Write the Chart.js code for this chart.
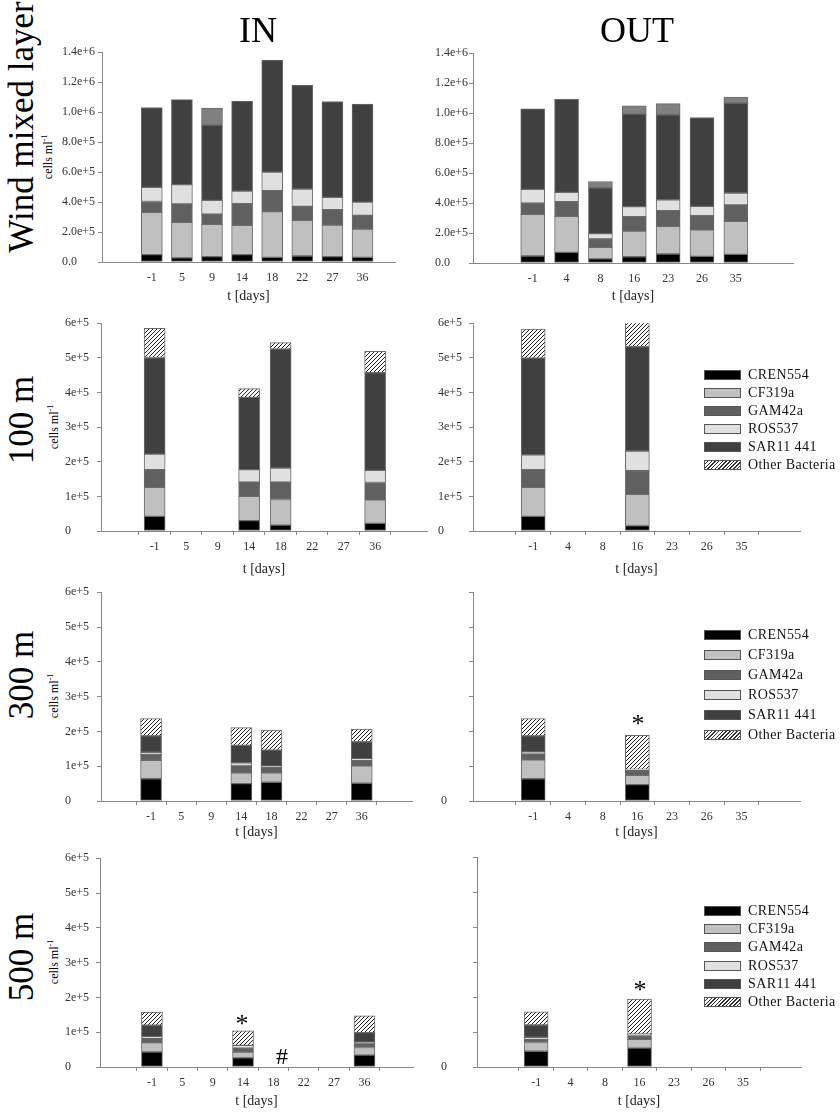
<!DOCTYPE html>
<html>
<head>
<meta charset="utf-8">
<script src="https://cdn.jsdelivr.net/npm/chart.js@4.4.1/dist/chart.umd.min.js"></script>
<style>
  body { margin: 0; width: 840px; height: 1112px; position: relative; background: #fff; overflow: hidden;
         font-family: "Liberation Serif", "DejaVu Serif", serif; }
  canvas { position: absolute; }
  .txt { position: absolute; white-space: nowrap; color: #000; line-height: 1; transform: translate(-50%, -50%); }
  .rot { transform: translate(-50%, -50%) rotate(-90deg); }
  .legend { position: absolute; font-size: 14px; letter-spacing: 0.4px; color: #111; }
  .legend div { position: relative; height: 18px; line-height: 18px; padding-left: 44px; white-space: nowrap; }
  .legend span { position: absolute; left: 0; top: 4px; width: 35px; height: 8px; border: 1px solid #555; }
</style>
</head>
<body>
<script>
// categories (sampling days)
const daysIn = ["-1", "5", "9", "14", "18", "22", "27", "36"];
const daysOut = ["-1", "4", "8", "16", "23", "26", "35"];
const series = ["CREN554", "CF319a", "GAM42a", "ROS537", "SAR11 441", "Other Bacteria"];

// values in cells ml-1, one row per series (same order as `series`)
const wmlIn = [
  [49000, 27000, 36000, 49000, 31000, 40000, 36000, 31000],
  [282000, 237000, 215000, 195000, 305000, 238000, 211000, 189000],
  [73000, 123000, 69000, 145000, 140000, 93000, 102000, 91000],
  [94000, 129000, 91000, 84000, 124000, 116000, 82000, 89000],
  [533000, 568000, 502000, 600000, 747000, 693000, 640000, 653000],
  [null, null, 114000, null, null, null, null, null]
];
const wmlOut = [
  [47000, 71000, 27000, 42000, 60000, 44000, 58000],
  [277000, 240000, 77000, 171000, 184000, 178000, 220000],
  [76000, 98000, 56000, 96000, 105000, 94000, 109000],
  [91000, 62000, 36000, 67000, 73000, 62000, 80000],
  [538000, 622000, 306000, 617000, 567000, 593000, 600000],
  [null, null, 42000, 56000, 75000, null, 40000]
];
const m100In = [
  [42000, null, null, 30000, 17000, null, null, 22000],
  [84000, null, null, 70000, 74000, null, null, 68000],
  [51000, null, null, 41000, 50000, null, null, 50000],
  [45000, null, null, 36000, 41000, null, null, 35000],
  [279000, null, null, 209000, 343000, null, null, 282000],
  [84000, null, null, 25000, 19000, null, null, 62000]
];
const m100Out = [
  [42000, null, null, 16000, null, null, null],
  [84000, null, null, 90000, null, null, null],
  [51000, null, null, 68000, null, null, null],
  [43000, null, null, 57000, null, null, null],
  [279000, null, null, 301000, null, null, null],
  [84000, null, null, 73000, null, null, null]
];
const m300In = [
  [64000, null, null, 50000, 54000, null, null, 51000],
  [53000, null, null, 31000, 27000, null, null, 50000],
  [17000, null, null, 20000, 17000, null, null, 16000],
  [6000, null, null, 9000, 2000, null, null, 4000],
  [47000, null, null, 50000, 46000, null, null, 49000],
  [50000, null, null, 51000, 58000, null, null, 37000]
];
const m300Out = [
  [64000, null, null, 47000, null, null, null],
  [54000, null, null, 27000, null, null, null],
  [17000, null, null, 15000, null, null, null],
  [6000, null, null, 2000, null, null, null],
  [46000, null, null, null, null, null, null],
  [50000, null, null, 98000, null, null, null]
];
const m500In = [
  [43000, null, null, 26000, null, null, null, 34000],
  [27000, null, null, 17000, null, null, null, 22000],
  [13000, null, null, 11000, null, null, null, 11000],
  [4000, null, null, 8000, null, null, null, 4000],
  [33000, null, null, null, null, null, null, 28000],
  [38000, null, null, 42000, null, null, null, 48000]
];
const m500Out = [
  [45000, null, null, 54000, null, null, null],
  [25000, null, null, 25000, null, null, null],
  [9000, null, null, 11000, null, null, null],
  [6000, null, null, 4000, null, null, null],
  [35000, null, null, null, null, null, null],
  [38000, null, null, 100000, null, null, null]
];

const SERIF = "'Liberation Serif', 'DejaVu Serif', serif";

function hatchPattern() {
  const c = document.createElement("canvas");
  c.width = 4; c.height = 4;
  const g = c.getContext("2d");
  g.fillStyle = "#fff";
  g.fillRect(0, 0, 4, 4);
  g.strokeStyle = "#222";
  g.lineWidth = 1;
  g.beginPath();
  g.moveTo(0, 4); g.lineTo(4, 0);
  g.moveTo(-1, 1); g.lineTo(1, -1);
  g.moveTo(3, 5); g.lineTo(5, 3);
  g.stroke();
  return g.createPattern(c, "repeat");
}
const HATCH = hatchPattern();
const baseFills = ["#000000", "#c0c0c0", "#606060", "#e0e0e0", "#404040"];

function sci(v, big) {
  if (v === 0) return big ? "0.0" : "0";
  const e = Math.floor(Math.log10(v) + 1e-9);
  const m = v / Math.pow(10, e);
  return (big ? m.toFixed(1) : Math.round(m)) + "e+" + e;
}

function addText(text, x, y, size, cls) {
  const d = document.createElement("div");
  d.className = "txt" + (cls ? " " + cls : "");
  d.style.left = x + "px";
  d.style.top = y + "px";
  d.style.fontSize = size + "px";
  d.innerHTML = text;
  document.body.appendChild(d);
}

function addLegend(x, y, step) {
  const box = document.createElement("div");
  box.className = "legend";
  box.style.left = x + "px";
  box.style.top = y + "px";
  series.forEach((name, k) => {
    const row = document.createElement("div");
    row.style.height = step + "px";
    row.style.lineHeight = step + "px";
    const sw = document.createElement("span");
    sw.style.top = (step / 2 - 5) + "px";
    sw.style.background = k < 5 ? baseFills[k]
      : "repeating-linear-gradient(-45deg, #fff 0 1.6px, #333 1.6px 2.6px)";
    row.appendChild(sw);
    row.appendChild(document.createTextNode(name));
    box.appendChild(row);
  });
  document.body.appendChild(box);
}

// p: chart area L,R,T,B; F first category px, S category spacing; yW y-axis box width
function panel(p, labels, values) {
  const padT = 10, padR = 12;
  const canvas = document.createElement("canvas");
  const w = p.R - p.L + p.yW + padR;
  const h = p.B - p.T + padT + p.xH;
  canvas.width = w; canvas.height = h;
  canvas.style.left = (p.L - p.yW) + "px";
  canvas.style.top = (p.T - padT) + "px";
  canvas.style.width = w + "px";
  canvas.style.height = h + "px";
  document.body.appendChild(canvas);

  const xMin = -(p.F - p.L) / p.S;
  const xMax = xMin + (p.R - p.L) / p.S;
  const fills = baseFills.concat([p.wml ? "#808080" : HATCH]);

  new Chart(canvas.getContext("2d"), {
    type: "bar",
    data: {
      datasets: series.map((name, k) => ({
        label: name,
        data: values[k].map((v, i) => ({ x: i, y: v })),
        backgroundColor: fills[k],
        borderColor: "#6a6a6a",
        borderWidth: 1,
        borderSkipped: false,
        barThickness: p.bar
      }))
    },
    options: {
      animation: false,
      responsive: false,
      devicePixelRatio: 1,
      layout: { padding: { left: 0, top: padT, right: padR, bottom: 0 } },
      plugins: { legend: { display: false }, tooltip: { enabled: false } },
      scales: {
        x: {
          type: "linear",
          stacked: true,
          min: xMin,
          max: xMax,
          afterBuildTicks: s => { s.ticks = labels.map((_, i) => ({ value: i })); },
          afterFit: s => { s.height = p.xH; },
          ticks: {
            callback: v => labels[v],
            autoSkip: false,
            maxRotation: 0,
            padding: p.wml ? 9 : 5,
            color: "#333",
            font: { family: SERIF, size: 12 }
          },
          grid: { drawOnChartArea: false, drawTicks: !p.wml, tickLength: 4, color: "#888" },
          border: { color: "#888" },
          title: {
            display: true,
            text: "t [days]",
            color: "#222",
            font: { family: SERIF, size: 14 },
            padding: { top: 0, bottom: 2 }
          }
        },
        y: {
          stacked: true,
          min: 0,
          max: p.yMax,
          afterFit: s => { s.width = p.yW; },
          afterBuildTicks: s => {
            const t = [];
            for (let v = 0; v <= p.yMax + 1; v += p.step) t.push({ value: v });
            s.ticks = t;
          },
          ticks: {
            crossAlign: "far",
            padding: 3,
            color: "#333",
            font: { family: SERIF, size: 12 },
            callback: v => (p.onlyZero && v !== 0) ? "" : sci(v, p.wml)
          },
          grid: { drawOnChartArea: false, drawTicks: true, tickLength: 4, color: "#888" },
          border: { color: "#888" }
        }
      }
    }
  });
}

// row 1: wind mixed layer
panel({ L: 102, R: 395, T: 52, B: 262, F: 138, S: 34.4, bar: 21, yW: 40, xH: 45, yMax: 1400000, step: 200000, wml: true }, daysIn, wmlIn);
panel({ L: 473, R: 793, T: 53, B: 263, F: 516, S: 39.5, bar: 24, yW: 38, xH: 44, yMax: 1400000, step: 200000, wml: true }, daysOut, wmlOut);
// row 2: 100 m
panel({ L: 101, R: 427, T: 323, B: 531, F: 139, S: 36, bar: 21, yW: 36, xH: 49, yMax: 600000, step: 100000 }, daysIn, m100In);
panel({ L: 473, R: 800, T: 323, B: 531, F: 516, S: 40.5, bar: 24, yW: 35, xH: 49, yMax: 600000, step: 100000 }, daysOut, m100Out);
// row 3: 300 m
panel({ L: 101, R: 412, T: 592, B: 801, F: 136, S: 34.4, bar: 21, yW: 36, xH: 42, yMax: 600000, step: 100000 }, daysIn, m300In);
panel({ L: 473, R: 800, T: 592, B: 801, F: 516, S: 40.5, bar: 24, yW: 32, xH: 42, yMax: 600000, step: 100000, onlyZero: true }, daysOut, m300Out);
// row 4: 500 m
panel({ L: 100, R: 413, T: 858, B: 1067, F: 137, S: 34.7, bar: 21, yW: 35, xH: 45, yMax: 600000, step: 100000 }, daysIn, m500In);
panel({ L: 477, R: 801, T: 857, B: 1067, F: 519, S: 40.2, bar: 24, yW: 36, xH: 45, yMax: 600000, step: 100000, onlyZero: true }, daysOut, m500Out);

// titles and row labels
addText("IN", 258, 30, 36);
addText("OUT", 637, 30, 36);
addText("Wind mixed layer", 21, 127, 35, "rot");
addText("100 m", 21, 420, 35, "rot");
addText("300 m", 21, 675, 35, "rot");
addText("500 m", 21, 957, 35, "rot");
addText("cells ml<sup style='font-size:8px'>-1</sup>", 47, 157, 12, "rot");
addText("cells ml<sup style='font-size:8px'>-1</sup>", 53, 427, 12, "rot");
addText("cells ml<sup style='font-size:8px'>-1</sup>", 53, 696, 12, "rot");
addText("cells ml<sup style='font-size:8px'>-1</sup>", 53, 962, 12, "rot");

// significance marks
addText("*", 638, 724, 26);
addText("*", 242, 1024, 26);
addText("*", 640, 990, 26);
addText("#", 282, 1056, 24);

// legends
addLegend(704, 366, 18);
addLegend(704, 625, 20);
addLegend(704, 902, 18.2);
</script>
</body>
</html>
